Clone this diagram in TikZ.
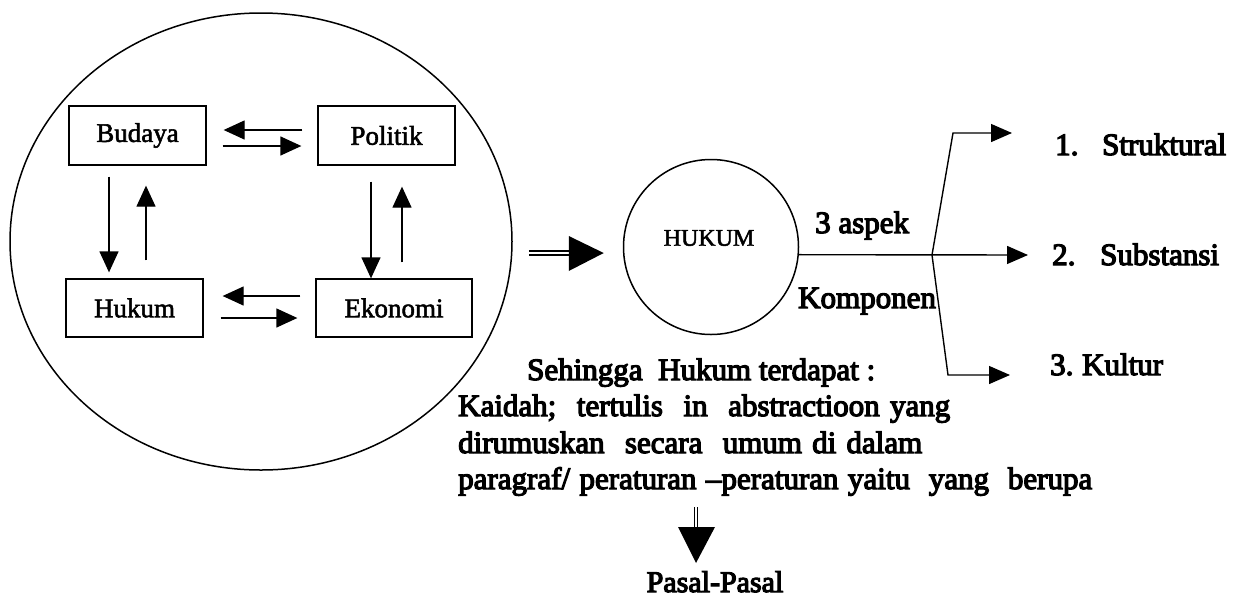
\documentclass[tikz,border=0pt]{standalone}
\usepackage{fontspec}
\setmainfont{Liberation Serif}
\newfontfamily\hv{Liberation Serif}[Ligatures=TeX,FakeBold=4]
\newfontfamily\mdw{Liberation Serif}[Ligatures=TeX,FakeBold=2]
\usetikzlibrary{arrows.meta,shapes.geometric,calc}
\begin{document}
\begin{tikzpicture}[x=1pt,y=-1pt,
  box/.style={draw,line width=1.3pt,inner sep=0pt,minimum height=58pt,font=\mdw\fontsize{27}{32}\selectfont},
  arr/.style={line width=1.3pt,-{Triangle[length=21pt,width=19pt]}},
  arrb/.style={line width=1.4pt,-{Triangle[length=21pt,width=18pt]}},
  lbl/.style={inner sep=0pt,anchor=base west,font=\hv\fontsize{31}{37}\selectfont},
  dbl/.style={double,double distance=2.5pt,line width=1.5pt}]
\useasboundingbox (0,0) rectangle (1245,603);
% left context ellipse
\node[draw,ellipse,line width=1.5pt,minimum width=502pt,minimum height=457pt,inner sep=0pt] (ctx) at (261,241.5) {};
% boxes
\node[box,minimum width=137pt,minimum height=59pt] (bud) at (137.5,135.5) {Budaya};
\node[box,minimum width=137pt,minimum height=59pt] (pol) at (386.5,135.5) {Politik};
\node[box,minimum width=137pt] (huk) at (134.5,308) {Hukum};
\node[box,minimum width=156pt] (eko) at (394,308) {Ekonomi};
% horizontal arrows
\draw[arr] ($(pol.west)+(-15,-5.5)$) -- ($(bud.east)+(17,-5.5)$);
\draw[arr] ($(bud.east)+(16,10.5)$) -- ($(pol.west)+(-16,10.5)$);
\draw[arr] ($(eko.west)+(-15,-12)$) -- ($(huk.east)+(19,-12)$);
\draw[arr] ($(huk.east)+(17,10)$) -- ($(eko.west)+(-18,10)$);
% vertical arrows
\draw[arr] ($(bud.south)+(-28.5,11)$) -- ($(huk.north)+(-25.5,-6)$);
\draw[arr] ($(huk.north)+(11.5,-18)$) -- ($(bud.south)+(8.5,20)$);
\draw[arr] ($(pol.south)+(-15.5,16)$) -- ($(eko.north)+(-23,0)$);
\draw[arr] ($(eko.north)+(8,-16)$) -- ($(pol.south)+(15.5,21)$);
% HUKUM circle
\node[draw,circle,line width=1.5pt,minimum size=175pt,inner sep=0pt] (hk) at (711,247) {};
\node[inner sep=0pt,font=\mdw\fontsize{24}{28}\selectfont] (hkt) at (709,238) {HUKUM};
% big arrow
\draw[dbl] ($(ctx.east)+(16,11.5)$) -- ($(hk.west)+(-52,6)$);
\fill ($(hk.west)+(-54,-11)$) -- ($(hk.west)+(-19,6)$) -- ($(hk.west)+(-54,24)$) -- cycle;
% right labels
\node[lbl] (r1) at (1055,155) {\makebox[47pt][l]{1.}Struktural};
\node[lbl] (r2) at (1052,265) {\makebox[48pt][l]{2.}Substansi};
\node[lbl] (r3) at (1050,375) {\makebox[32pt][l]{3.}Kultur};
\node[lbl] (asp) at (815,233) {3 aspek};
\node[lbl] (komp) at (798,308) {Komponen};
\coordinate (j) at (932,255);
\coordinate (t1) at (1012,133);
\coordinate (t2) at (1028,255);
\coordinate (t3) at (1010,375);
\draw[arrb] (hk.-5) -- (t2);
\draw[arrb] (j) -- (953,133) -- (t1);
\draw[arrb] (j) -- (948,375) -- (t3);
% paragraph
\node[lbl] (l1) at (527,380) {\makebox[348pt][s]{Sehingga\ \ Hukum terdapat :}};
\node[lbl] (l2) at (458,416) {\makebox[492pt][s]{Kaidah;\ \ tertulis\ \ in\ \ abstractioon yang}};
\node[lbl] (l3) at (458,453) {\makebox[464pt][s]{dirumuskan\ \ secara\ \ umum di dalam}};
\node[lbl] (l4) at (458,489) {\makebox[634pt][s]{paragraf/ peraturan --peraturan yaitu\ \ yang\ \ berupa}};
\node[lbl,anchor=base,font=\hv\fontsize{30}{36}\selectfont] (pasal) at (715,592) {Pasal-Pasal};
% down arrow
\coordinate (ds) at (696,507);
\coordinate (de) at (696,529);
\draw[double,double distance=1.5pt,line width=1.2pt] (ds) -- (de);
\fill (678,527) -- (715,527) -- (696,563) -- cycle;
\end{tikzpicture}
\end{document}
